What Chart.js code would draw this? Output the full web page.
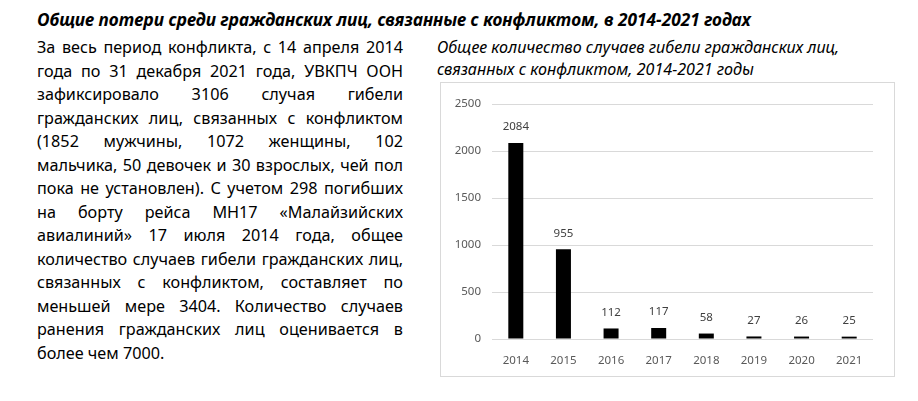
<!DOCTYPE html>
<html lang="ru">
<head>
<meta charset="utf-8">
<title>Общие потери среди гражданских лиц</title>
<script src="https://cdn.jsdelivr.net/npm/chart.js@4/dist/chart.umd.min.js"></script>
<style>
  html, body { margin: 0; padding: 0; background: #fff; }
  body { width: 918px; height: 401px; position: relative; overflow: hidden; font-family: "Noto Sans", "Open Sans", sans-serif; color: #000; }
  #heading { position: absolute; left: 37px; top: 8px; font-size: 17.3px; font-weight: bold; font-style: italic; white-space: nowrap; line-height: 24px; }
  #body { position: absolute; left: 37px; top: 36px; width: 366px; font-size: 16.2px; }
  #body div { height: 23.5px; line-height: 23.5px; text-align: justify; text-align-last: justify; white-space: nowrap; }
  #body div.last { text-align-last: left; }
  #chartTitle { position: absolute; left: 437px; top: 36px; font-size: 16.1px; font-style: italic; line-height: 22px; white-space: nowrap; }
  #box { position: absolute; left: 440px; top: 82px; width: 453px; height: 293px; border: 1px solid #d9d9d9; }
</style>
</head>
<body>
<div id="heading">Общие потери среди гражданских лиц, связанные с конфликтом, в 2014-2021 годах</div>
<div id="body"></div>
<div id="chartTitle">Общее количество случаев гибели гражданских лиц,<br>связанных с конфликтом, 2014-2021 годы</div>
<div id="box"><canvas id="deathsChart"></canvas></div>
<script>
// text of the left column, one entry per printed line
const bodyLines = [
    "За весь период конфликта, с 14 апреля 2014",
    "года по 31 декабря 2021 года, УВКПЧ ООН",
    "зафиксировало 3106 случая гибели",
    "гражданских лиц, связанных с конфликтом",
    "(1852 мужчины, 1072 женщины, 102",
    "мальчика, 50 девочек и 30 взрослых, чей пол",
    "пока не установлен). С учетом 298 погибших",
    "на борту рейса МН17 «Малайзийских",
    "авиалиний» 17 июля 2014 года, общее",
    "количество случаев гибели гражданских лиц,",
    "связанных с конфликтом, составляет по",
    "меньшей мере 3404. Количество случаев",
    "ранения гражданских лиц оценивается в",
    "более чем 7000."
];

// chart data
const years = ["2014", "2015", "2016", "2017", "2018", "2019", "2020", "2021"];
const deaths = [2084, 955, 112, 117, 58, 27, 26, 25];
const yTicks = [0, 500, 1000, 1500, 2000, 2500];

document.addEventListener("DOMContentLoaded", function() {
    const bodyEl = document.getElementById("body");
    bodyLines.forEach((line, i) => {
        const div = document.createElement("div");
        div.textContent = line;
        if (i === bodyLines.length - 1) div.className = "last";
        bodyEl.appendChild(div);
    });

    // small plugin to write the value above each bar
    const barValues = {
        id: "barValues",
        afterDatasetsDraw(chart) {
            const ctx = chart.ctx;
            ctx.save();
            ctx.font = "11.5px 'Noto Sans', sans-serif";
            ctx.fillStyle = "#404040";
            ctx.textAlign = "center";
            ctx.textBaseline = "middle";
            chart.getDatasetMeta(0).data.forEach((bar, i) => {
                ctx.fillText(String(chart.data.datasets[0].data[i]), bar.x, bar.y - 16);
            });
            ctx.restore();
        }
    };

    new Chart(document.getElementById("deathsChart"), {
        type: "bar",
        data: {
            labels: years,
            datasets: [{
                data: deaths,
                backgroundColor: "#000",
                borderWidth: 0,
                barPercentage: 0.315,
                categoryPercentage: 1
            }]
        },
        options: {
            responsive: true,
            maintainAspectRatio: false,
            animation: false,
            layout: { padding: { top: 21, right: 21, bottom: 0, left: 0 } },
            plugins: {
                legend: { display: false },
                tooltip: { enabled: false }
            },
            scales: {
                x: {
                    grid: { display: false },
                    border: { display: false },
                    ticks: { color: "#595959", font: { family: "'Noto Sans', sans-serif", size: 11.5 }, padding: 7, maxRotation: 0 },
                    afterFit(scale) { scale.height = 37; }
                },
                y: {
                    min: 0,
                    max: 2500,
                    afterBuildTicks(scale) { scale.ticks = yTicks.map(v => ({ value: v })); },
                    grid: { color: "#d9d9d9", lineWidth: 1, drawTicks: false },
                    border: { display: false },
                    ticks: {
                        color: "#595959",
                        font: { family: "'Noto Sans', sans-serif", size: 11.5 },
                        padding: 11,
                        callback: v => String(v)
                    },
                    afterFit(scale) { scale.width = 51; }
                }
            }
        },
        plugins: [barValues]
    });
});
</script>
</body>
</html>
